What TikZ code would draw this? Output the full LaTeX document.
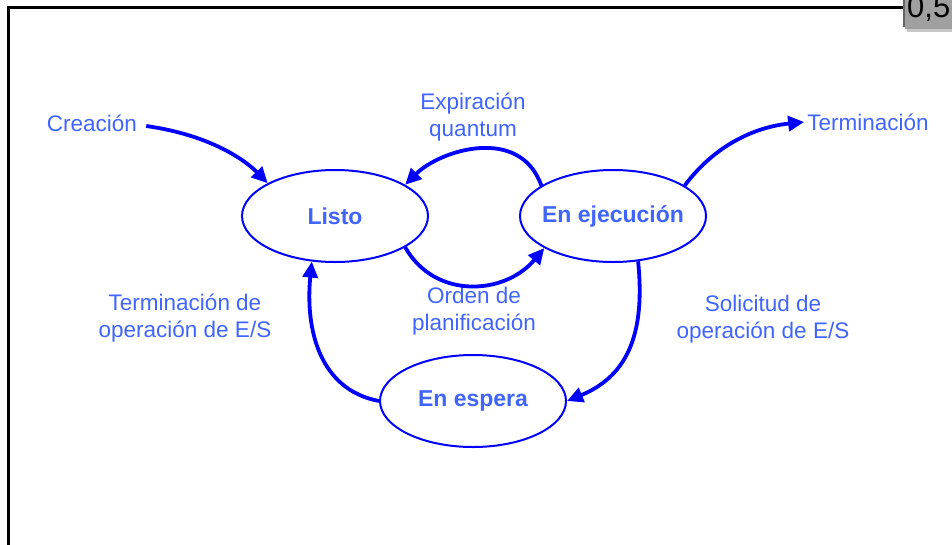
\documentclass[tikz,border=0pt]{standalone}
\usepackage{fontspec}
\setmainfont{Liberation Sans}
\usetikzlibrary{arrows.meta,shapes.geometric}
\definecolor{lbl}{RGB}{64,100,255}
\definecolor{edgeblue}{RGB}{0,0,255}
\definecolor{boxgray}{RGB}{160,160,160}
\definecolor{boxdark}{RGB}{100,100,100}
\definecolor{boxlight}{RGB}{200,200,200}
\begin{document}
\begin{tikzpicture}[x=1pt,y=-1pt,
  state/.style={ellipse,draw=edgeblue,line width=2pt,minimum width=186pt,minimum height=92pt,inner sep=-15pt,text=lbl,font=\fontsize{23}{26}\selectfont\bfseries},
  lab/.style={text=lbl,font=\fontsize{22.5}{27}\selectfont,align=center,inner sep=3pt},
  flow/.style={draw=edgeblue,line width=3.8pt,-{Triangle[length=16pt,width=15pt]}},
  frame/.style={line width=3pt,line join=miter}
]
\useasboundingbox (0,0) rectangle (952,544);
\clip (0,0) rectangle (952,544);

% frame
\draw[frame] (8,545) -- (8,7) -- (904,7);
\fill[boxdark] (903,0) rectangle (906,27);
\fill[boxgray] (905,0) rectangle (952,29);
\fill[boxlight] (907,29) rectangle (952,32);
\node[anchor=base west,inner sep=0pt,font=\fontsize{31}{32}\selectfont] (score) at (907,17) {0,5};

% states
\node[state] (listo) at (335,216) {Listo};
\node[state] (ejec) at (613,216) {En ejecución};
\node[state] (espera) at (473,401) {En espera};

% labels
\node[lab] (creacion) at (92,123) {Creación};
\node[lab] (expira) at (473,117) {Expiración\\quantum};
\node[lab] (term) at (868,122) {Terminación};
\node[lab] (orden) at (474,311) {Orden de\\planificación};
\node[lab] (termop) at (185,318) {Terminación de\\operación de E/S};
\node[lab] (solic) at (763,319) {Solicitud de\\operación de E/S};

% transitions
\draw[flow] ([xshift=6pt,yshift=-3pt]creacion.east) .. controls (210,135) and (245,160) .. (listo.154);
\draw[flow] (ejec.157) .. controls (520,125) and (440,150) .. (listo.24);
\draw[flow] (listo.336) .. controls (435,300) and (505,295) .. (ejec.205);
\draw[flow] (ejec.23) .. controls (715,145) and (755,127) .. (term.west);
\draw[flow] (ejec.299) .. controls (645,330) and (630,375) .. (espera.east);
\draw[flow] (espera.west) .. controls (320,390) and (305,330) .. (listo.243);
\end{tikzpicture}
\end{document}
